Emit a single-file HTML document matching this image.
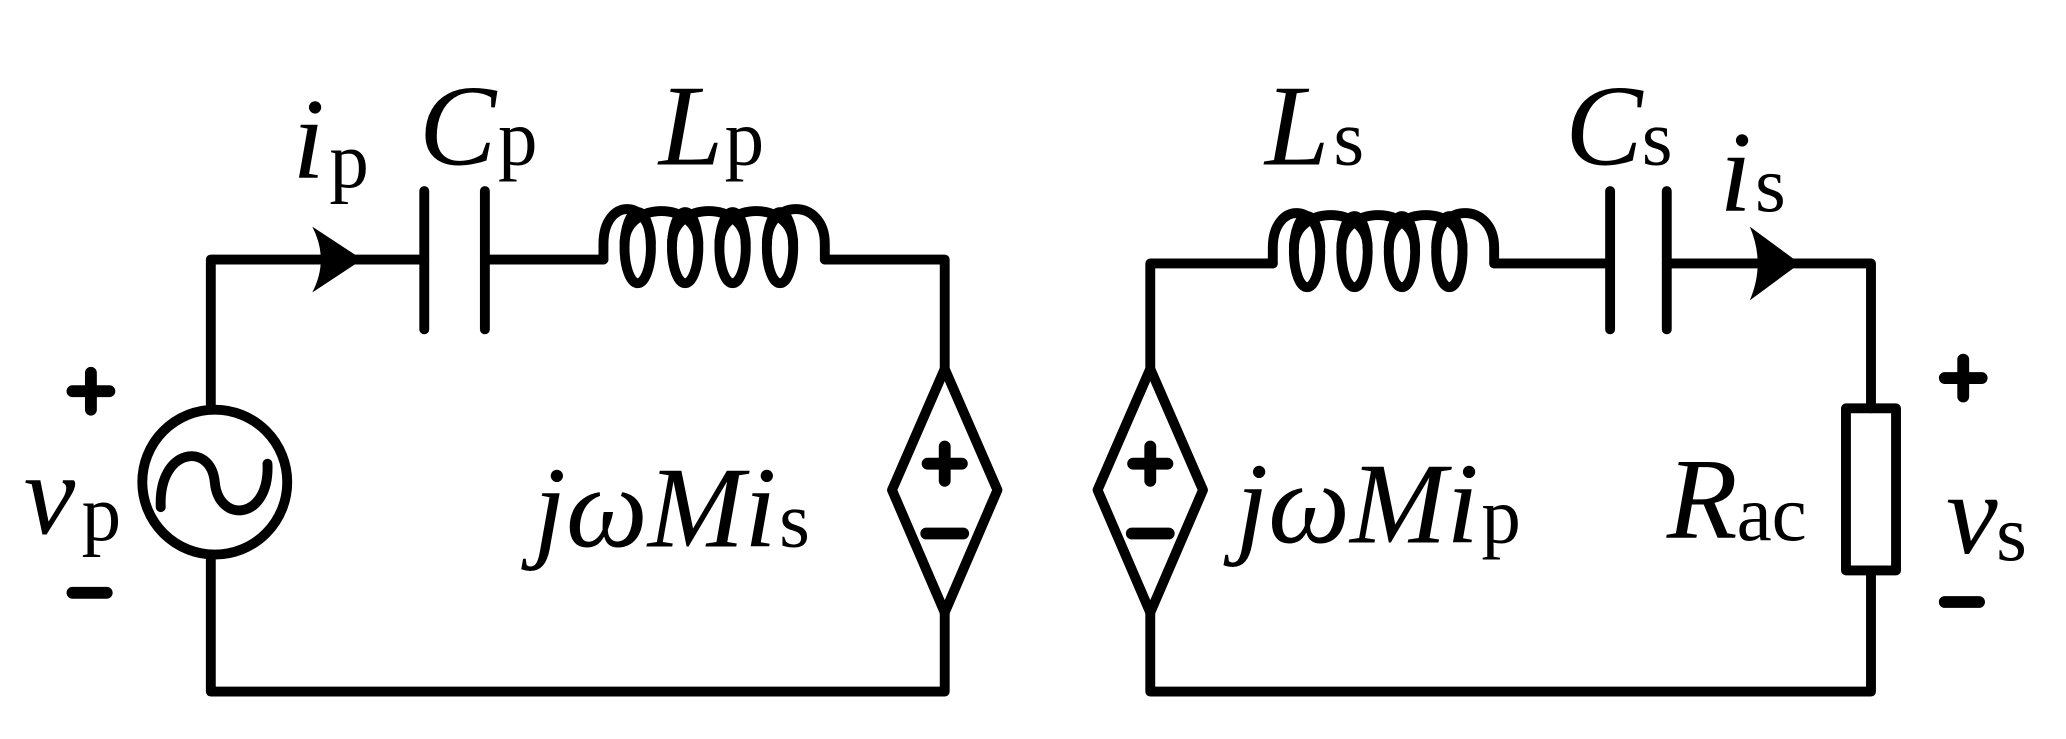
<!DOCTYPE html>
<html><head><style>
html,body{margin:0;padding:0;background:#fff}
svg{display:block}
text{font-family:"Liberation Serif",serif;fill:#000}
.i{font-style:italic}
</style></head><body>
<svg width="2066" height="739" viewBox="0 0 1568 561" preserveAspectRatio="none">
<g fill="none" stroke="#000" stroke-width="7.5" stroke-linecap="round" stroke-linejoin="round">
<path d="M160 307 V197 H322 M368 197 H458 M626 197 H717 V280 M717 465 V525 H160 V425"/>
<line x1="322" y1="145" x2="322" y2="250"/><line x1="368" y1="145" x2="368" y2="250"/>
<circle cx="163" cy="366" r="55"/>
<path d="M122 385 C120 340 160 335 163 366 C166 398 205 395 203 352"/>
<path d="M458 197 V185 C458 150 494 150 494 185 M474 185 C474 152 530 152 530 185 M510 185 C510 152 566 152 566 185 M546 185 C546 152 602 152 602 185 M582 185 C582 150 626 150 626 185 V197"/>
<ellipse cx="484" cy="188" rx="10" ry="27"/><ellipse cx="520" cy="188" rx="10" ry="27"/><ellipse cx="556" cy="188" rx="10" ry="27"/><ellipse cx="592" cy="188" rx="10" ry="27"/>
<path d="M717 280 L757 372 L717 465 L677 372 Z"/>
<path d="M704 352 H730 M717 339 V365 M703 405 H731" stroke-width="9"/>
<path d="M55 297 H83 M69 283 V311 M55 450 H81" stroke-width="9"/>
<path d="M873 280 V200 H966 M1134 200 H1222 M1265 200 H1420 V310 M1420 433 V525 H873 V465"/>
<line x1="1222" y1="145" x2="1222" y2="250"/><line x1="1265" y1="145" x2="1265" y2="250"/>
<path d="M966 200 V188 C966 153 1002 153 1002 188 M982 188 C982 155 1038 155 1038 188 M1018 188 C1018 155 1074 155 1074 188 M1054 188 C1054 155 1110 155 1110 188 M1090 188 C1090 153 1134 153 1134 188 V200"/>
<ellipse cx="992" cy="191" rx="10" ry="27"/><ellipse cx="1028" cy="191" rx="10" ry="27"/><ellipse cx="1064" cy="191" rx="10" ry="27"/><ellipse cx="1100" cy="191" rx="10" ry="27"/>
<path d="M873 280 L913 372 L873 465 L833 372 Z"/>
<path d="M860 352 H886 M873 339 V365 M859 405 H887" stroke-width="9"/>
<rect x="1401" y="310" width="38" height="123"/>
<path d="M1476 287 H1504 M1490 273 V301 M1476 457 H1502" stroke-width="9"/>
</g>
<path d="M237 172 L275 197 L237 222 Q250 197 237 172 Z" fill="#000"/>
<path d="M1328 172 L1366 200 L1328 228 Q1340 200 1328 172 Z" fill="#000"/>
<g font-size="88">
<text x="222" y="135" class="i">i</text><text x="250" y="142" font-size="60">p</text>
<text x="318" y="125" class="i">C</text><text x="378" y="125" font-size="60">p</text>
<text x="500" y="125" class="i">L</text><text x="550" y="125" font-size="60">p</text>
<text x="18" y="405" class="i">v</text><text x="62" y="410" font-size="60">p</text>
<text x="405" y="415"><tspan class="i">jωMi</tspan><tspan font-size="60" dx="2">s</tspan></text>
<text x="960" y="125" class="i">L</text><text x="1012" y="125" font-size="60">s</text>
<text x="1188" y="125" class="i">C</text><text x="1246" y="125" font-size="60">s</text>
<text x="1305" y="160" class="i">i</text><text x="1332" y="160" font-size="60">s</text>
<text x="938" y="412"><tspan class="i">jωMi</tspan><tspan font-size="60" dx="2">p</tspan></text>
<text x="1265" y="408" class="i">R</text><text x="1318" y="410" font-size="60">ac</text>
<text x="1477" y="420" class="i">v</text><text x="1515" y="425" font-size="60">s</text>
</g>
</svg>
</body></html>
